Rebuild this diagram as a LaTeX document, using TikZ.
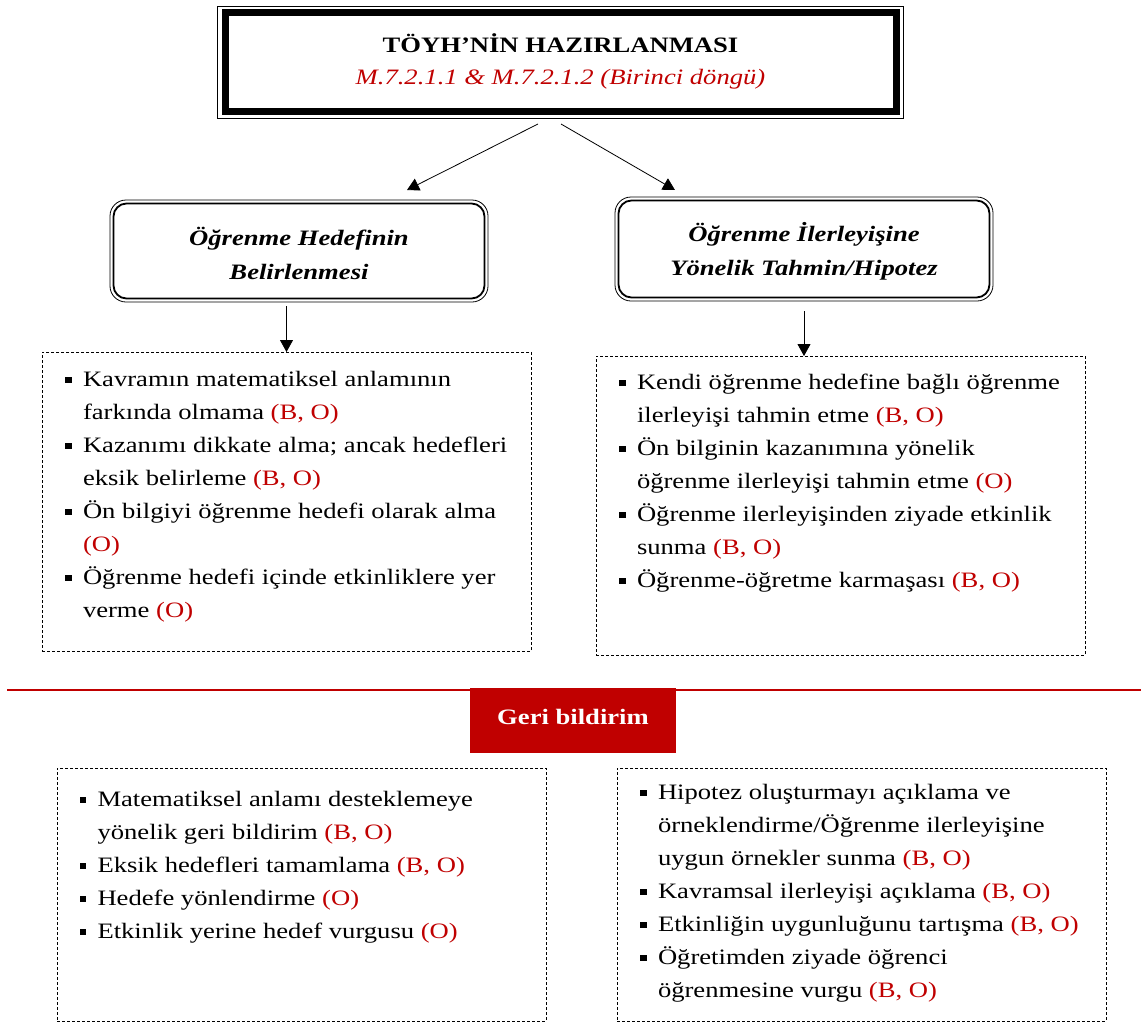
\documentclass[tikz,border=0pt]{standalone}
\usepackage{fontspec}
\setmainfont[FakeStretch=1.21]{Liberation Serif}
\usetikzlibrary{arrows.meta,calc}
\definecolor{tred}{HTML}{C00000}
\newcommand\rd[1]{\textcolor{tred}{#1}}
\newcommand\blt{\rule[3pt]{6.5pt}{6.5pt}}
\newenvironment{bullets}{\begin{tabular}[t]{@{}l@{\hspace{11.5pt}}l@{}}}{\end{tabular}}

\begin{document}
\begin{tikzpicture}[x=1pt,y=-1pt,
  every node/.style={inner sep=0pt,outer sep=0pt},
  txt/.style={font=\fontsize{22}{33}\selectfont},
  lst/.style={txt,anchor=base west},
  ttl/.style={txt,anchor=base},
  dbox/.style={draw,dash pattern=on 3pt off 2pt,line width=0.9pt},
  rbox/.style={draw,rounded corners=16pt,line width=0.8pt,minimum width=378pt},
  arr/.style={-{Triangle[length=12pt,width=13pt]},line width=0.8pt}]

\useasboundingbox[fill=white] (0,0) rectangle (1141,1023);

% heading frame: thin outer line with a thick inner band
\node[draw,line width=0.8pt,minimum width=686pt,minimum height=112pt] (top) at (560.5,62) {};
\draw[line width=7pt] ([xshift=7.5pt,yshift=-6.5pt]top.north west) rectangle ([xshift=-7.5pt,yshift=6.5pt]top.south east);
\node[ttl] (title) at (560.5,52) {\bfseries TÖYH’NİN HAZIRLANMASI};
\node[ttl] (subtitle) at (560.5,84) {\rd{\itshape M.7.2.1.1 \& M.7.2.1.2 (Birinci döngü)}};

% the two stages
\node[rbox,minimum height=102pt] (lgoal) at (299,251) {};
\draw[rounded corners=13pt,line width=1.8pt] ([xshift=3.5pt,yshift=-3.5pt]lgoal.north west) rectangle ([xshift=-3.5pt,yshift=3.5pt]lgoal.south east);
\node[ttl] (lg1) at (299,245) {\bfseries\itshape Öğrenme Hedefinin};
\node[ttl] (lg2) at (299,279) {\bfseries\itshape Belirlenmesi};

\node[rbox,minimum height=104pt] (rgoal) at (804,249) {};
\draw[rounded corners=13pt,line width=1.8pt] ([xshift=3.5pt,yshift=-3.5pt]rgoal.north west) rectangle ([xshift=-3.5pt,yshift=3.5pt]rgoal.south east);
\node[ttl] (rg1) at (804,241) {\bfseries\itshape Öğrenme İlerleyişine};
\node[ttl] (rg2) at (804,275) {\bfseries\itshape Yönelik Tahmin/Hipotez};

\draw[arr] ([xshift=-22.5pt,yshift=-6pt]top.south) -- ([xshift=108pt,yshift=10pt]lgoal.north);
\draw[arr] ([xshift=0.5pt,yshift=-6pt]top.south) -- ([xshift=-129pt,yshift=7pt]rgoal.north);

% findings under each stage
\node[dbox,minimum width=489pt,minimum height=299pt] (tl) at (286.5,501.5) {};
\node[dbox,minimum width=489pt,minimum height=299pt] (tr) at (840.5,505.5) {};

\draw[arr] ($(tl.north |- lgoal.south)+(0,4)$) -- (tl.north);
\draw[arr] ($(rgoal.south)+(0,10)$) -- (rgoal.south |- tr.north);

\node[lst] (tltext) at (65,386) {\begin{bullets}
\blt & Kavramın matematiksel anlamının\\
 & farkında olmama \rd{(B, O)}\\
\blt & Kazanımı dikkate alma; ancak hedefleri\\
 & eksik belirleme \rd{(B, O)}\\
\blt & Ön bilgiyi öğrenme hedefi olarak alma\\
 & \rd{(O)}\\
\blt & Öğrenme hedefi içinde etkinliklere yer\\
 & verme \rd{(O)}
\end{bullets}};

\node[lst] (trtext) at (619,389) {\begin{bullets}
\blt & Kendi öğrenme hedefine bağlı öğrenme\\
 & ilerleyişi tahmin etme \rd{(B, O)}\\
\blt & Ön bilginin kazanımına yönelik\\
 & öğrenme ilerleyişi tahmin etme \rd{(O)}\\
\blt & Öğrenme ilerleyişinden ziyade etkinlik\\
 & sunma \rd{(B, O)}\\
\blt & Öğrenme-öğretme karmaşası \rd{(B, O)}
\end{bullets}};

% feedback band
\draw[tred,line width=2.5pt] (7,690) -- (1141,690);
\node[fill=tred,minimum width=206pt,minimum height=65pt,text=white,
      font={\fontsize{22}{33}\selectfont\bfseries},
      text height=15pt,text depth=8pt] (gb) at (573,720.5) {Geri bildirim};

\node[dbox,minimum width=489pt,minimum height=253pt] (bl) at (301.5,894.5) {};
\node[dbox,minimum width=489pt,minimum height=253pt] (br) at (861.5,894.5) {};

\node[lst] (bltext) at (79.5,806) {\begin{bullets}
\blt & Matematiksel anlamı desteklemeye\\
 & yönelik geri bildirim \rd{(B, O)}\\
\blt & Eksik hedefleri tamamlama \rd{(B, O)}\\
\blt & Hedefe yönlendirme \rd{(O)}\\
\blt & Etkinlik yerine hedef vurgusu \rd{(O)}
\end{bullets}};

\node[lst] (brtext) at (640,799) {\begin{bullets}
\blt & Hipotez oluşturmayı açıklama ve\\
 & örneklendirme/Öğrenme ilerleyişine\\
 & uygun örnekler sunma \rd{(B, O)}\\
\blt & Kavramsal ilerleyişi açıklama \rd{(B, O)}\\
\blt & Etkinliğin uygunluğunu tartışma \rd{(B, O)}\\
\blt & Öğretimden ziyade öğrenci\\
 & öğrenmesine vurgu \rd{(B, O)}
\end{bullets}};
\end{tikzpicture}
\end{document}
